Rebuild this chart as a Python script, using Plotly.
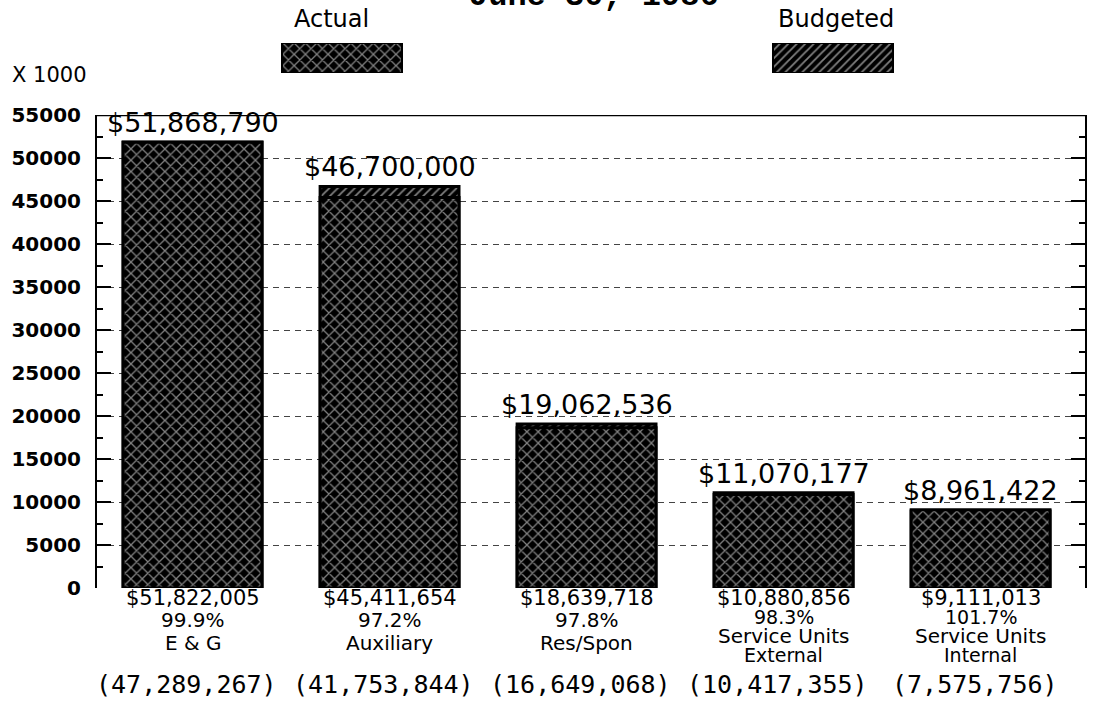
import plotly.graph_objects as go

# ---- data ----
categories = ["E & G", "Auxiliary", "Res/Spon", "Service Units<br>External", "Service Units<br>Internal"]
budgeted = [51868790, 46700000, 19062536, 11070177, 8961422]
actual = [51822005, 45411654, 18639718, 10880856, 9111013]
percent_labels = ["99.9%", "97.2%", "97.8%", "98.3%", "101.7%"]
paren_values = [47289267, 41753844, 16649068, 10417355, 7575756]
y_ticks = [0, 5000, 10000, 15000, 20000, 25000, 30000, 35000, 40000, 45000, 50000, 55000]

W, H = 1096, 709
xs = list(range(len(categories)))
bud_k = [v / 1000 for v in budgeted]
act_k = [v / 1000 for v in actual]

def px(p):
    return p / W

def py(p):  # pixel row -> paper fraction
    return 1 - p / H

font_main = "DejaVu Sans"
pat_actual = dict(shape="x", fgcolor="white", bgcolor="black", size=8, solidity=0.3)
pat_budget = dict(shape="/", fgcolor="white", bgcolor="black", size=6, solidity=0.3)

fig = go.Figure()
fig.add_trace(go.Bar(
    x=xs, y=bud_k, width=0.705, name="Budgeted",
    marker=dict(color="black", line=dict(color="black", width=3), pattern=pat_budget),
    showlegend=False, hoverinfo="skip"))
fig.add_trace(go.Bar(
    x=xs, y=act_k, width=0.705, name="Actual",
    marker=dict(color="black", line=dict(color="black", width=3), pattern=pat_actual),
    showlegend=False, hoverinfo="skip"))

# legend swatches on a hidden helper axis
fig.add_trace(go.Bar(
    x=[342], y=[1], width=[120], xaxis="x2", yaxis="y2",
    marker=dict(color="black", line=dict(color="black", width=2), pattern=pat_actual),
    showlegend=False, hoverinfo="skip"))
fig.add_trace(go.Bar(
    x=[833], y=[1], width=[120], xaxis="x2", yaxis="y2",
    marker=dict(color="black", line=dict(color="black", width=2), pattern=pat_budget),
    showlegend=False, hoverinfo="skip"))

ann = []
for i, c in enumerate(categories):
    top = max(bud_k[i], act_k[i])
    ann.append(dict(x=i, y=top, xref="x", yref="y", text=f"${budgeted[i]:,}",
                    showarrow=False, yanchor="bottom", yshift=2,
                    font=dict(family=font_main, size=27, color="black")))
    lines = c.split("<br>")
    two_line = len(lines) > 1
    ann.append(dict(x=i, y=py(598), xref="x", yref="paper", text=f"${actual[i]:,}",
                    showarrow=False, yanchor="middle",
                    font=dict(family=font_main, size=21, color="black")))
    if two_line:
        ann.append(dict(x=i, y=py(617), xref="x", yref="paper", text=percent_labels[i],
                        showarrow=False, yanchor="middle",
                        font=dict(family=font_main, size=19, color="black")))
        ann.append(dict(x=i, y=py(636), xref="x", yref="paper", text=lines[0],
                        showarrow=False, yanchor="middle",
                        font=dict(family=font_main, size=20, color="black")))
        ann.append(dict(x=i, y=py(655), xref="x", yref="paper", text=lines[1],
                        showarrow=False, yanchor="middle",
                        font=dict(family=font_main, size=19, color="black")))
    else:
        ann.append(dict(x=i, y=py(620), xref="x", yref="paper", text=percent_labels[i],
                        showarrow=False, yanchor="middle",
                        font=dict(family=font_main, size=20, color="black")))
        ann.append(dict(x=i, y=py(643), xref="x", yref="paper", text=c,
                        showarrow=False, yanchor="middle",
                        font=dict(family=font_main, size=20, color="black")))
    ann.append(dict(x=i - 0.03, y=py(684), xref="x", yref="paper", text=f"({paren_values[i]:,})",
                    showarrow=False, yanchor="middle",
                    font=dict(family="DejaVu Sans Mono", size=25, color="black")))

ann.append(dict(x=px(10), y=py(75), xref="paper", yref="paper", text="X 1000",
                showarrow=False, xanchor="left", yanchor="middle",
                font=dict(family=font_main, size=21, color="black")))
ann.append(dict(x=px(331), y=py(19), xref="paper", yref="paper", text="Actual",
                showarrow=False, xanchor="center", yanchor="middle",
                font=dict(family=font_main, size=24, color="black")))
ann.append(dict(x=px(836), y=py(19), xref="paper", yref="paper", text="Budgeted",
                showarrow=False, xanchor="center", yanchor="middle",
                font=dict(family=font_main, size=24, color="black")))
ann.append(dict(x=px(594), y=1, xref="paper", yref="paper", text="<b>June 30, 1986</b>",
                showarrow=False, xanchor="center", yanchor="bottom", yshift=-17,
                font=dict(family="Liberation Mono", size=32, color="black")))

fig.update_layout(
    width=W, height=H,
    margin=dict(l=0, r=0, t=0, b=0, autoexpand=False),
    paper_bgcolor="white", plot_bgcolor="white",
    barmode="overlay", showlegend=False,
    annotations=ann,
    xaxis=dict(domain=[px(97), px(1085)], range=[-0.485, 4.53], showticklabels=False,
               showgrid=False, zeroline=False, showline=False, ticks="", automargin=False),
    yaxis=dict(domain=[py(588), py(115)], range=[0, 55000], tickvals=y_ticks,
               ticktext=[str(v) for v in y_ticks],
               tickfont=dict(family=font_main, size=20, color="black", weight="bold"),
               ticks="inside", ticklen=14, tickwidth=1.5, tickcolor="black",
               ticklabelstandoff=10,
               minor=dict(dtick=2500, ticks="inside", ticklen=6, tickcolor="black", showgrid=False),
               showline=True, linecolor="black", linewidth=2, mirror="ticks",
               showgrid=True, gridcolor="#444", gridwidth=1, griddash="6px,5px",
               zeroline=False, automargin=False),
    xaxis2=dict(domain=[0, 1], range=[0, W], visible=False, anchor="y2", automargin=False),
    yaxis2=dict(domain=[py(73), py(43)], range=[0, 1], visible=False, anchor="x2", automargin=False),
    shapes=[dict(type="line", xref="paper", yref="y", x0=px(97), x1=px(1085), y0=55000, y1=55000,
                 line=dict(color="black", width=2.5))],
)

fig.write_html("out.html", config={"displayModeBar": False},
               post_script="document.body.style.margin='0';document.body.style.overflow='hidden';")
